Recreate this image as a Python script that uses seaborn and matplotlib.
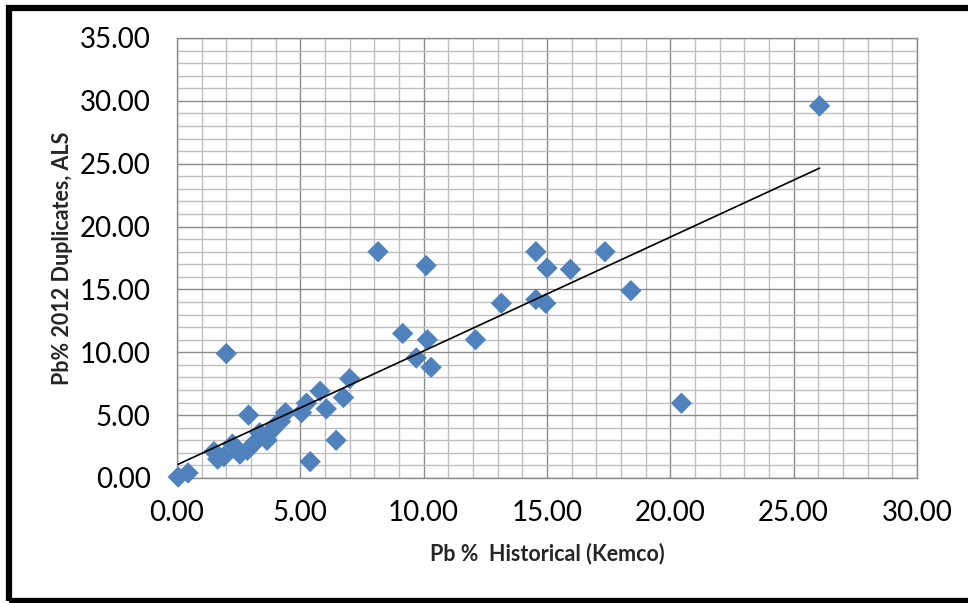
import matplotlib
matplotlib.use("Agg")
import matplotlib.pyplot as plt
from matplotlib.patches import Rectangle
from matplotlib.ticker import MultipleLocator, FormatStrFormatter
import numpy as np
import pandas as pd
import seaborn as sns

# Pb assays: historical (Kemco) vs 2012 ALS duplicates
pb_historical = [0.05, 0.45, 1.5, 1.65, 1.9, 2.0, 2.25, 2.55, 2.85, 2.9, 3.2, 3.35,
                 3.65, 3.8, 4.0, 4.2, 4.4, 5.05, 5.25, 5.4, 5.8, 6.05, 6.45, 6.75,
                 7.0, 8.15, 9.15, 9.7, 10.1, 10.15, 10.3, 12.1, 13.15, 14.55, 14.55,
                 14.95, 15.0, 15.95, 17.35, 18.4, 20.45, 26.05]
pb_duplicates = [0.08, 0.40, 2.1, 1.5, 1.7, 9.9, 2.7, 1.9, 2.2, 5.0, 2.9, 3.6,
                 3.0, 3.7, 4.2, 4.5, 5.2, 5.2, 5.95, 1.3, 6.9, 5.5, 3.0, 6.4,
                 7.9, 18.0, 11.5, 9.55, 16.9, 11.0, 8.8, 11.0, 13.9, 18.0, 14.2,
                 13.9, 16.7, 16.6, 18.0, 14.9, 5.95, 29.6]

x_label = "Pb %  Historical (Kemco)"
y_label = "Pb% 2012 Duplicates, ALS"

df = pd.DataFrame({"hist": pb_historical, "dup": pb_duplicates})

sns.set_style("white")
plt.rcParams["font.family"] = ["Lato", "DejaVu Sans"]

fig = plt.figure(figsize=(9.68, 6.03), dpi=100)
ax = fig.add_axes([177 / 968, 1 - 478 / 603, 740 / 968, 440 / 603])

sns.regplot(data=df, x="hist", y="dup", ax=ax, ci=None, truncate=True,
            marker="D",
            scatter_kws=dict(s=118, color="#4F81BD", edgecolors="none",
                             alpha=1, clip_on=False, zorder=3),
            line_kws=dict(color="black", lw=1.2, zorder=4))

ax.set_xlim(0, 30)
ax.set_ylim(0, 35)
ax.xaxis.set_major_locator(MultipleLocator(5))
ax.yaxis.set_major_locator(MultipleLocator(5))
ax.xaxis.set_minor_locator(MultipleLocator(1))
ax.yaxis.set_minor_locator(MultipleLocator(1))
ax.xaxis.set_major_formatter(FormatStrFormatter("%.2f"))
ax.yaxis.set_major_formatter(FormatStrFormatter("%.2f"))

ax.grid(which="minor", color="#BFBFBF", lw=1.0, zorder=0)
ax.grid(which="major", color="#8C8C8C", lw=1.0, zorder=1)
ax.set_axisbelow(True)

for side in ["left", "bottom", "top", "right"]:
    ax.spines[side].set_color("#8C8C8C")
    ax.spines[side].set_linewidth(1.0)

ax.tick_params(which="major", direction="out", length=5, width=1.0,
               color="#8C8C8C", labelsize=20, labelcolor="#000000")
ax.tick_params(which="minor", length=0)
ax.tick_params(axis="x", pad=11)
ax.tick_params(axis="y", pad=14)

ax.set_xlabel(x_label, fontsize=15.5, fontweight="bold", labelpad=12)
ax.set_ylabel(y_label, fontsize=15.5, fontweight="bold", labelpad=5)

# black frame around the whole chart
fig.add_artist(Rectangle((9 / 968, 1 - 601 / 603), (985 - 9) / 968, (601 - 8) / 603,
                         transform=fig.transFigure, fill=False,
                         edgecolor="black", lw=4.5, clip_on=False))

fig.savefig("out.png", dpi=100)
